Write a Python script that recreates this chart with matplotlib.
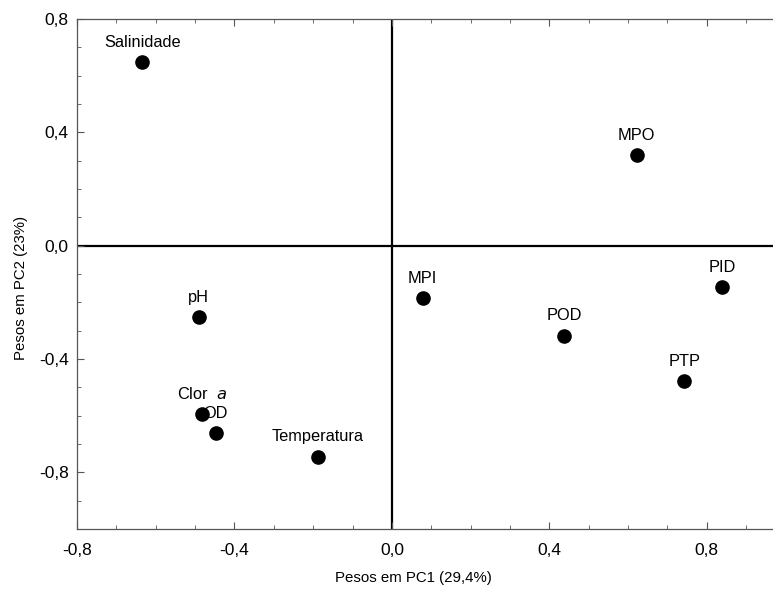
import matplotlib
matplotlib.use('Agg')
import matplotlib.pyplot as plt
from matplotlib.ticker import MultipleLocator, FuncFormatter

plt.rcParams['font.family'] = ['Liberation Sans', 'DejaVu Sans']

# cargas das variaveis
variaveis = ['Salinidade', 'MPO', 'pH', 'Clor  $\\it{a}$', 'OD', 'Temperatura',
             'MPI', 'POD', 'PID', 'PTP']
pc1 = [-0.634, 0.622, -0.491, -0.482, -0.448, -0.189, 0.078, 0.437, 0.839, 0.743]
pc2 = [0.647, 0.318, -0.253, -0.596, -0.663, -0.745, -0.186, -0.319, -0.147, -0.478]

xticks = [-0.8, -0.4, 0.0, 0.4, 0.8]
yticks = [-0.8, -0.4, 0.0, 0.4, 0.8]

fig = plt.figure(figsize=(7.73, 5.91), dpi=100)
ax = fig.add_axes([0.0996, 0.105, 0.9004, 0.863])

ax.axhline(0, color='black', lw=1.6, zorder=1)
ax.axvline(0, color='black', lw=1.6, zorder=1)

ax.plot(pc1, pc2, 'o', color='black', markersize=9.5, zorder=3)
for nome, x, y in zip(variaveis, pc1, pc2):
    ax.annotate(nome, (x, y), xytext=(0, 9), textcoords='offset points',
                ha='center', va='bottom', fontsize=11.8)

ax.set_xlim(-0.8, 0.968)
ax.set_ylim(-1.0, 0.8)
ax.set_xticks(xticks)
ax.set_yticks(yticks)
ax.xaxis.set_minor_locator(MultipleLocator(0.1))
ax.yaxis.set_minor_locator(MultipleLocator(0.1))
fmt = FuncFormatter(lambda v, p: ('%.1f' % v).replace('.', ',').replace('-0,0', '0,0'))
ax.xaxis.set_major_formatter(fmt)
ax.yaxis.set_major_formatter(fmt)

ax.spines['right'].set_visible(False)
for s in ['left', 'top', 'bottom']:
    ax.spines[s].set_color('#555555')
    ax.spines[s].set_linewidth(0.9)
ax.tick_params(which='both', direction='in', top=True, right=False,
               color='#555555', labelsize=12.5)
ax.tick_params(which='major', length=5)
ax.tick_params(axis='x', which='major', pad=10)
ax.tick_params(axis='y', which='major', pad=6)
ax.tick_params(which='minor', length=3)

ax.set_xlabel('Pesos em PC1 (29,4%)', fontsize=10.8)
ax.set_ylabel('Pesos em PC2 (23%)', fontsize=10.8)
ax.xaxis.set_label_coords(0.484, -0.082)
ax.yaxis.set_label_coords(-0.070, 0.4725)

fig.savefig('out.png', dpi=100)
